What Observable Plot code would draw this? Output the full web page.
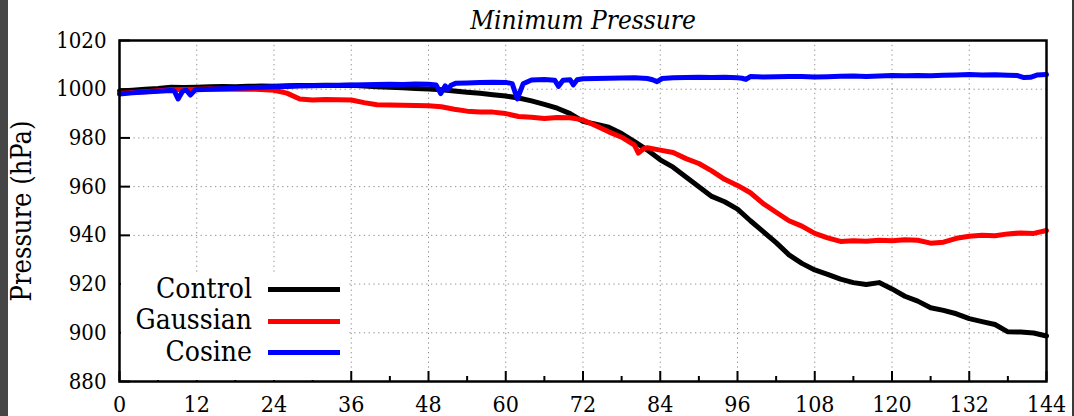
<!DOCTYPE html>
<html>
<head>
<meta charset="utf-8">
<script src="https://cdn.jsdelivr.net/npm/d3@7"></script>
<script src="https://cdn.jsdelivr.net/npm/@observablehq/plot@0.6"></script>
<style>
  html, body { margin: 0; padding: 0; background: #fff; }
  #wrap { position: relative; width: 1074px; height: 416px; overflow: hidden; }
  #wrap svg { position: absolute; left: 0; top: 0; }
  .strip { position: absolute; top: 0; height: 416px; }
  #legend { position: absolute; background: #fff; }
  .lg-text { position: absolute; text-align: right; white-space: nowrap;
    font-family: "DejaVu Serif Condensed", "DejaVu Serif", serif; font-stretch: condensed; font-size: 28px; color: #000; }
  .lg-line { position: absolute; height: 5px; }
</style>
</head>
<body>
<div id="wrap"></div>
<script>
// ---- data ----
const seriesNames = ["Control", "Gaussian", "Cosine"];
const seriesColors = ["#000000", "#ff0000", "#0000ff"];

const controlHours = [0,2,4,6,8,10,12,14,16,18,20,22,24,26,28,30,32,34,36,38,40,42,44,46,48,50,52,54,56,58,60,62,64,66,68,70,72,74,76,78,80,82,84,86,88,90,92,94,96,98,100,102,104,106,108,110,112,114,116,118,120,122,124,126,128,130,132,134,136,138,140,142,144];
const controlValues = [999.3,999.6,1000.0,1000.3,1000.8,1000.7,1000.8,1001.0,1001.1,1001.0,1001.2,1001.3,1001.2,1001.4,1001.5,1001.5,1001.6,1001.5,1001.6,1001.3,1001.0,1000.8,1000.6,1000.3,1000.1,999.8,999.3,998.8,998.3,997.7,997.2,996.4,995.2,993.8,992.2,990.0,986.8,985.6,984.4,981.8,978.5,975.0,971.0,968.0,964.0,960.0,956.0,953.8,950.8,946.0,941.5,937.0,932.0,928.5,925.8,924.0,922.0,920.6,919.8,920.6,918.0,915.0,913.0,910.3,909.2,907.8,905.8,904.6,903.4,900.4,900.3,899.9,898.7];

const gaussHours = [0,2,4,6,8,10,12,14,16,18,20,22,24,26,28,30,32,34,36,38,40,42,44,46,48,50,52,54,56,58,60,62,64,66,68,70,72,74,76,78,80,80.6,81.4,82,84,86,88,90,92,94,96,98,100,102,104,106,108,110,112,114,116,118,120,122,124,126,128,130,132,134,136,138,140,142,144];
const gaussValues = [998.3,998.7,999.0,999.4,999.8,999.9,1000.0,1000.1,1000.0,1000.1,1000.0,999.9,999.6,998.4,996.0,995.6,995.8,995.7,995.6,994.5,993.6,993.5,993.4,993.3,993.2,992.8,991.8,991.0,990.6,990.6,990.0,988.8,988.5,988.0,988.4,988.3,987.4,985.0,982.5,980.3,977.0,973.8,975.5,976.0,975.0,974.0,971.5,969.5,966.5,963.0,960.5,957.5,953.0,949.5,946.0,943.8,940.8,939.0,937.5,937.8,937.6,938.0,937.8,938.2,938.0,936.8,937.2,938.8,939.6,940.0,939.8,940.6,941.0,940.8,942.0];

const cosineHours = [0,2,4,6,8,8.5,9.1,9.8,10.4,11,11.7,12,14,16,18,20,22,24,26,28,30,32,34,36,38,40,42,44,46,48,49.2,49.9,50.6,51,51.5,52.2,54,56,58,60,61.0,61.8,62.7,64,66,67.6,68.2,68.9,70,70.5,71.1,72,74,76,78,80,82,82.8,83.5,84.3,86,88,90,92,94,96,96.7,97.3,98,100,102,104,106,108,110,112,114,116,118,120,122,124,126,128,130,132,134,136,138,139.5,140.5,141.5,142.5,144];
const cosineValues = [998.0,998.5,998.9,999.2,999.5,999.3,996.0,999.2,999.6,997.6,999.6,999.8,1000.0,1000.2,1000.4,1000.6,1000.8,1001.0,1001.1,1001.3,1001.4,1001.5,1001.6,1001.7,1001.8,1001.9,1002.0,1001.9,1002.1,1002.0,1001.7,998.2,1001.4,999.8,1001.6,1002.4,1002.6,1002.8,1002.9,1002.8,1002.3,996.0,1002.2,1003.8,1004.0,1003.7,1001.2,1003.7,1003.9,1001.8,1003.9,1004.3,1004.4,1004.5,1004.6,1004.7,1004.4,1003.9,1003.1,1004.4,1004.7,1004.8,1004.9,1004.8,1004.9,1004.7,1004.5,1004.0,1005.2,1005.0,1005.1,1005.2,1005.2,1005.0,1005.1,1005.3,1005.4,1005.2,1005.4,1005.6,1005.5,1005.6,1005.5,1005.7,1005.8,1006.0,1005.8,1005.9,1005.7,1005.6,1004.8,1004.9,1005.8,1006.0];

const xTicks = [0,12,24,36,48,60,72,84,96,108,120,132,144];
const xMinorTicks = [6,18,30,42,54,66,78,90,102,114,126,138];
const yTicks = [880,900,920,940,960,980,1000,1020];
const titleText = "Minimum Pressure";
const yLabelText = "Pressure (hPa)";

// ---- layout ----
const W = 1074, H = 416;
const mL = 119, mR = 28, mT = 40, mB = 35;
const plotW = W - mL - mR, plotH = H - mT - mB;
const font = '"DejaVu Serif Condensed", "DejaVu Serif", serif';

const toRows = (hours, values, name) => hours.map((h, i) => ({h, v: values[i], name}));
const control = toRows(controlHours, controlValues, "Control");
const gauss = toRows(gaussHours, gaussValues, "Gaussian");
const cosine = toRows(cosineHours, cosineValues, "Cosine");

const gridStyle = {stroke: "#8f8f8f", strokeOpacity: 1, strokeWidth: 1, strokeDasharray: "1.3,3.5"};
const lineStyle = {x: "h", y: "v", strokeWidth: 5, strokeLinejoin: "round", strokeLinecap: "round"};

const chart = Plot.plot({
  width: W, height: H,
  marginLeft: mL, marginRight: mR, marginTop: mT, marginBottom: mB,
  style: {fontFamily: font, fontSize: "21px", fontStretch: "condensed", color: "#000", background: "transparent", overflow: "visible"},
  x: {domain: [0, 144]},
  y: {domain: [880, 1020]},
  marks: [
    Plot.gridX(xTicks.slice(1, -1), gridStyle),
    Plot.gridY(yTicks.slice(1, -1), gridStyle),
    Plot.line(control, {...lineStyle, stroke: seriesColors[0]}),
    Plot.line(gauss, {...lineStyle, stroke: seriesColors[1]}),
    Plot.line(cosine, {...lineStyle, stroke: seriesColors[2]}),
    Plot.tickX(xTicks, {x: d => d, insetTop: plotH - 10, stroke: "#000", strokeWidth: 2}),
    Plot.tickX(xMinorTicks, {x: d => d, insetTop: plotH - 5, stroke: "#000", strokeWidth: 2}),
    Plot.tickY(yTicks, {y: d => d, insetRight: plotW - 11, stroke: "#000", strokeWidth: 2}),
    Plot.axisX(xTicks, {tickSize: 0, tickPadding: 14, label: null, fontSize: 23, tickFormat: d => String(d)}),
    Plot.axisY(yTicks, {tickSize: 0, tickPadding: 13, label: null, fontSize: 22, tickFormat: d => String(d)}),
    Plot.frame({stroke: "#000", strokeWidth: 2.5}),
    Plot.text([titleText], {frameAnchor: "top", dy: -11.5, lineAnchor: "bottom", fontStyle: "italic", fontSize: 26}),
    Plot.text([yLabelText], {frameAnchor: "left", dx: -97, rotate: -90, textAnchor: "middle", fontSize: 27})
  ]
});

const wrap = document.getElementById("wrap");
wrap.appendChild(chart);

// legend (opaque box inside the plot, bottom-left)
const legend = document.createElement("div");
legend.id = "legend";
Object.assign(legend.style, {left: (mL + 1.5) + "px", top: "273px", width: "227px", height: (H - mB - 1.5 - 273) + "px"});
wrap.appendChild(legend);
const lgRowY = [289.5, 321, 352.5];
seriesNames.forEach((name, i) => {
  const t = document.createElement("div");
  t.className = "lg-text";
  t.textContent = name;
  Object.assign(t.style, {right: (W - 252) + "px", top: (lgRowY[i] - 17) + "px", lineHeight: "32px", height: "32px"});
  wrap.appendChild(t);
  const l = document.createElement("div");
  l.className = "lg-line";
  Object.assign(l.style, {left: "268px", width: "72px", top: (lgRowY[i] - 2.5) + "px", background: seriesColors[i]});
  wrap.appendChild(l);
});

// dark screenshot edges
const s1 = document.createElement("div"); s1.className = "strip";
Object.assign(s1.style, {left: "0px", width: "8px", background: "#464646"});
const s2 = document.createElement("div"); s2.className = "strip";
Object.assign(s2.style, {left: "1072px", width: "2px", background: "#3a3a3a"});
wrap.appendChild(s1); wrap.appendChild(s2);
</script>
</body>
</html>
